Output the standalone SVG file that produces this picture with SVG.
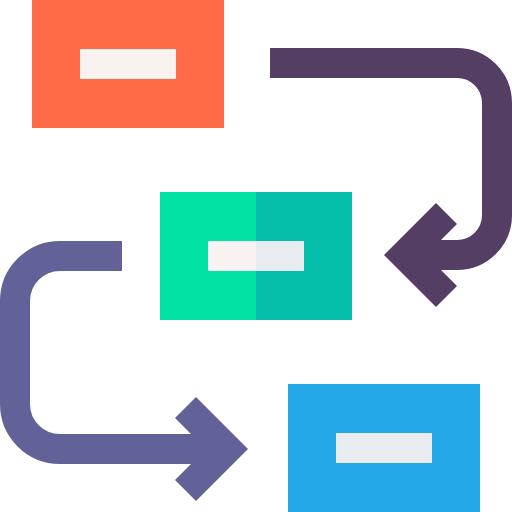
<svg xmlns="http://www.w3.org/2000/svg" width="512" height="512" viewBox="0 0 512 512">
<style>
.shaft{fill:none;stroke-width:30;stroke-linecap:butt}
.light{fill:#F8F3F0}
.light2{fill:#E8ECF1}
</style>
<rect width="512" height="512" fill="#FFFFFF"/>
<g id="connectors">
<g id="arrow-top">
<path class="shaft" stroke="#543E64" d="M270,63 H457 A40,40 0 0 1 497,103 V215 A40,40 0 0 1 457,255 H415"/>
<polygon fill="#543E64" points="384,255 436,203 457,224 426,255 457,286 436,307"/>
</g>
<g id="arrow-bottom">
<path class="shaft" stroke="#626299" d="M122,256 H60 A45,45 0 0 0 15,301 V404 A45,45 0 0 0 60,449 H215"/>
<polygon fill="#626299" points="248,449 196,397 175,418 206,449 175,480 196,501"/>
</g>
</g>
<g id="node-orange">
<rect x="32" y="0" width="192" height="128" fill="#FF6B47"/>
<rect class="light" x="80" y="49" width="96" height="30"/>
</g>
<g id="node-green">
<rect x="160" y="192" width="96" height="128" fill="#00E3A4"/>
<rect x="256" y="192" width="96" height="128" fill="#05BFAB"/>
<rect class="light" x="208" y="241" width="48" height="30"/>
<rect class="light2" x="256" y="241" width="48" height="30"/>
</g>
<g id="node-blue">
<rect x="288" y="384" width="192" height="128" fill="#23A7E6"/>
<rect class="light2" x="336" y="433" width="96" height="30"/>
</g>
</svg>
